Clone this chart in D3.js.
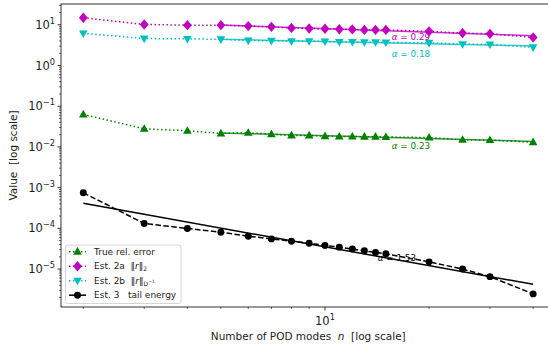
<!DOCTYPE html>
<html><head><meta charset="utf-8">
<script src="https://cdn.jsdelivr.net/npm/d3@7"></script>
<style>body{margin:0;background:#fff}svg{display:block;font-family:"DejaVu Sans",sans-serif}</style>
</head><body><svg id="c" width="548" height="347"></svg>
<script>
const modes = [2,3,4,5,6,7,8,9,10,11,12,13,14,15,20,25,30,40];
const trueErr = [0.0628,0.0279,0.0249,0.0215,0.0222,0.0206,0.0191,0.0191,0.0184,0.018,0.018,0.0178,0.0178,0.0175,0.017,0.0149,0.0147,0.0131];
const est2a = [14.9,10.2,9.8,9.8,9.3,8.9,8.4,8.1,8.0,7.8,7.7,7.5,7.5,7.5,6.9,6.25,6.0,4.9];
const est2b = [6.15,4.6,4.5,4.4,4.1,4.05,3.97,3.97,3.9,3.8,3.8,3.75,3.75,3.7,3.6,3.35,3.3,2.8];
const est3 = [7.45e-4,1.32e-4,9.9e-5,8.05e-5,6.4e-5,5.5e-5,4.84e-5,4.3e-5,3.8e-5,3.45e-5,3.1e-5,2.8e-5,2.56e-5,2.36e-5,1.5e-5,1.0e-5,6.5e-6,2.45e-6];
const fitAlpha = [0.23,0.29,0.18,1.53];
const fitStart = [5,5,5,2];
const yTicks = [1e-5,1e-4,1e-3,1e-2,1e-1,1,10];
const xTicks = [10];

const svg = d3.select("#c");
const L=61, R=555.6, T=4, B=307;
const x = d3.scaleLog().domain([Math.pow(10,0.2365),Math.pow(10,1.667)]).range([L,R]);
const y = d3.scaleLog().domain([Math.pow(10,-5.933),Math.pow(10,1.511)]).range([B,T]);

svg.append("defs").append("clipPath").attr("id","clip").append("rect")
  .attr("x",L).attr("y",T).attr("width",R-L).attr("height",B-T);

const series = [
  {name:"true", vals:trueErr, color:"#008000", marker:"up", dash:"1.5,2.475"},
  {name:"2a", vals:est2a, color:"#bf00bf", marker:"diamond", dash:"1.5,2.475"},
  {name:"2b", vals:est2b, color:"#00bfbf", marker:"down", dash:"1.5,2.475"},
  {name:"3", vals:est3, color:"#000000", marker:"circle", dash:"5.55,2.4"}
];

function markerPath(type){
  if(type==="up") return "M0,-4.6L4.3,3L-4.3,3Z";
  if(type==="down") return "M0,4.6L4.3,-3L-4.3,-3Z";
  if(type==="diamond") return "M0,-5.2L4.4,0L0,5.2L-4.4,0Z";
  return d3.symbol(d3.symbolCircle, 38)();
}

const plot = svg.append("g").attr("clip-path","url(#clip)");
const line = d3.line().x(d=>x(d[0])).y(d=>y(d[1]));

// fits
series.forEach((s,i)=>{
  const pts = modes.map((n,j)=>[n,s.vals[j]]).filter(p=>p[0]>=fitStart[i]);
  const a = fitAlpha[i];
  const c = d3.mean(pts,p=>Math.log10(p[1])+a*Math.log10(p[0]));
  const f = n=>Math.pow(10,c-a*Math.log10(n));
  const n0 = fitStart[i], n1 = modes[modes.length-1];
  s.fit = f;
  plot.append("path").attr("d",line([[n0,f(n0)],[n1,f(n1)]]))
    .attr("fill","none").attr("stroke",s.color).attr("stroke-width",1.5)
    .attr("stroke-opacity", i===3?1:0.8);
});

series.forEach(s=>{
  const data = modes.map((n,j)=>[n,s.vals[j]]);
  plot.append("path").attr("d",line(data)).attr("fill","none")
    .attr("stroke",s.color).attr("stroke-width",1.5).attr("stroke-dasharray",s.dash);
  plot.selectAll(null).data(data).enter().append("path")
    .attr("d",markerPath(s.marker)).attr("fill",s.color)
    .attr("transform",d=>`translate(${x(d[0])},${y(d[1])})`);
});

// alpha labels
const labelInfo = [
  {i:0, n:15.6, dy:11},
  {i:1, n:15.6, dy:9.5},
  {i:2, n:15.6, dy:14},
  {i:3, n:14.2, dy:4.5}
];
labelInfo.forEach(l=>{
  const s = series[l.i];
  const t = svg.append("text").attr("x",x(l.n)).attr("y",y(s.fit(l.n))+l.dy)
    .attr("font-size",8.8).attr("fill",s.color);
  t.append("tspan").attr("font-style","italic").text("α");
  t.append("tspan").text(" = "+fitAlpha[l.i].toFixed(2));
});

// axes
const ax = svg.append("g");
const yMinor = [];
for(let e=-6;e<=1;e++) for(let k=2;k<=9;k++){const v=k*Math.pow(10,e); if(y(v)>=T&&y(v)<=B) yMinor.push(v);}
ax.selectAll(null).data(yMinor).enter().append("line")
  .attr("x1",L).attr("x2",L-2).attr("y1",d=>y(d)).attr("y2",d=>y(d))
  .attr("stroke","#000").attr("stroke-width",0.6);
ax.selectAll(null).data(yTicks).enter().append("line")
  .attr("x1",L).attr("x2",L-3.5).attr("y1",d=>y(d)).attr("y2",d=>y(d))
  .attr("stroke","#000").attr("stroke-width",0.8);
yTicks.forEach(v=>{
  const e = Math.round(Math.log10(v));
  const t = ax.append("text").attr("x",L-6).attr("y",y(v)+4).attr("text-anchor","end")
    .attr("font-size",11.5).attr("fill","#222");
  t.append("tspan").text("10");
  t.append("tspan").attr("dy",-5).attr("font-size",8.2).text(e<0?"−"+(-e):String(e));
});
const xMinor = [2,3,4,5,6,7,8,9,20,30,40];
ax.selectAll(null).data(xMinor).enter().append("line")
  .attr("x1",d=>x(d)).attr("x2",d=>x(d)).attr("y1",B).attr("y2",B+2)
  .attr("stroke","#000").attr("stroke-width",0.6);
ax.selectAll(null).data(xTicks).enter().append("line")
  .attr("x1",d=>x(d)).attr("x2",d=>x(d)).attr("y1",B).attr("y2",B+3.5)
  .attr("stroke","#000").attr("stroke-width",0.8);
xTicks.forEach(v=>{
  const t = ax.append("text").attr("x",x(v)).attr("y",B+18).attr("text-anchor","middle")
    .attr("font-size",11.5).attr("fill","#222");
  t.append("tspan").text("10");
  t.append("tspan").attr("dy",-5).attr("font-size",8.2).text(String(Math.round(Math.log10(v))));
});
ax.append("rect").attr("x",L).attr("y",T).attr("width",R-L).attr("height",B-T)
  .attr("fill","none").attr("stroke","#000").attr("stroke-width",0.8);

// axis labels
const xl = svg.append("text").attr("x",(L+R)/2).attr("y",339.5).attr("text-anchor","middle")
  .attr("font-size",10.5).attr("fill","#222").style("white-space","pre");
xl.append("tspan").text("Number of POD modes  ");
xl.append("tspan").attr("font-style","italic").text("n");
xl.append("tspan").text("  [log scale]");
svg.append("text").attr("transform",`translate(17,${(T+B)/2}) rotate(-90)`).attr("text-anchor","middle")
  .attr("font-size",10.5).attr("fill","#222").style("white-space","pre").text("Value  [log scale]");

// legend
const lg = svg.append("g");
lg.append("rect").attr("x",65.5).attr("y",245).attr("width",115.5).attr("height",58.5).attr("rx",2)
  .attr("fill","#fff").attr("fill-opacity",0.8).attr("stroke","#ccc").attr("stroke-width",0.8);
const rows = [251.7,266.2,280.7,295.2];
const labels = [
  [["True rel. error",{}]],
  [["Est. 2a  ‖",{}],["r",{italic:true}],["‖",{}],["2",{sub:true}]],
  [["Est. 2b  ‖",{}],["r",{italic:true}],["‖",{}],["D",{sub:true}],["−1",{supsub:true}]],
  [["Est. 3   tail energy",{}]]
];
series.forEach((s,i)=>{
  const yy = rows[i];
  lg.append("line").attr("x1",69).attr("x2",86).attr("y1",yy).attr("y2",yy)
    .attr("stroke",s.color).attr("stroke-width",1.5).attr("stroke-dasharray",i===3?null:s.dash);
  lg.append("path").attr("d",markerPath(s.marker)).attr("fill",s.color)
    .attr("transform",`translate(77.5,${yy})`);
  const t = lg.append("text").attr("x",94).attr("y",yy+3.2).attr("font-size",9).attr("fill","#222")
    .style("white-space","pre");
  let cur = 0;
  labels[i].forEach(([str,o])=>{
    const sp = t.append("tspan").text(str);
    if(o.italic) sp.attr("font-style","italic");
    let target = 0, fs = null;
    if(o.sub){target=2; fs=6;}
    if(o.supsub){target=-1; fs=4.5;}
    if(target!==cur){sp.attr("dy",target-cur); cur=target;}
    if(fs) sp.attr("font-size",fs);
  });
});
</script></body></html>
